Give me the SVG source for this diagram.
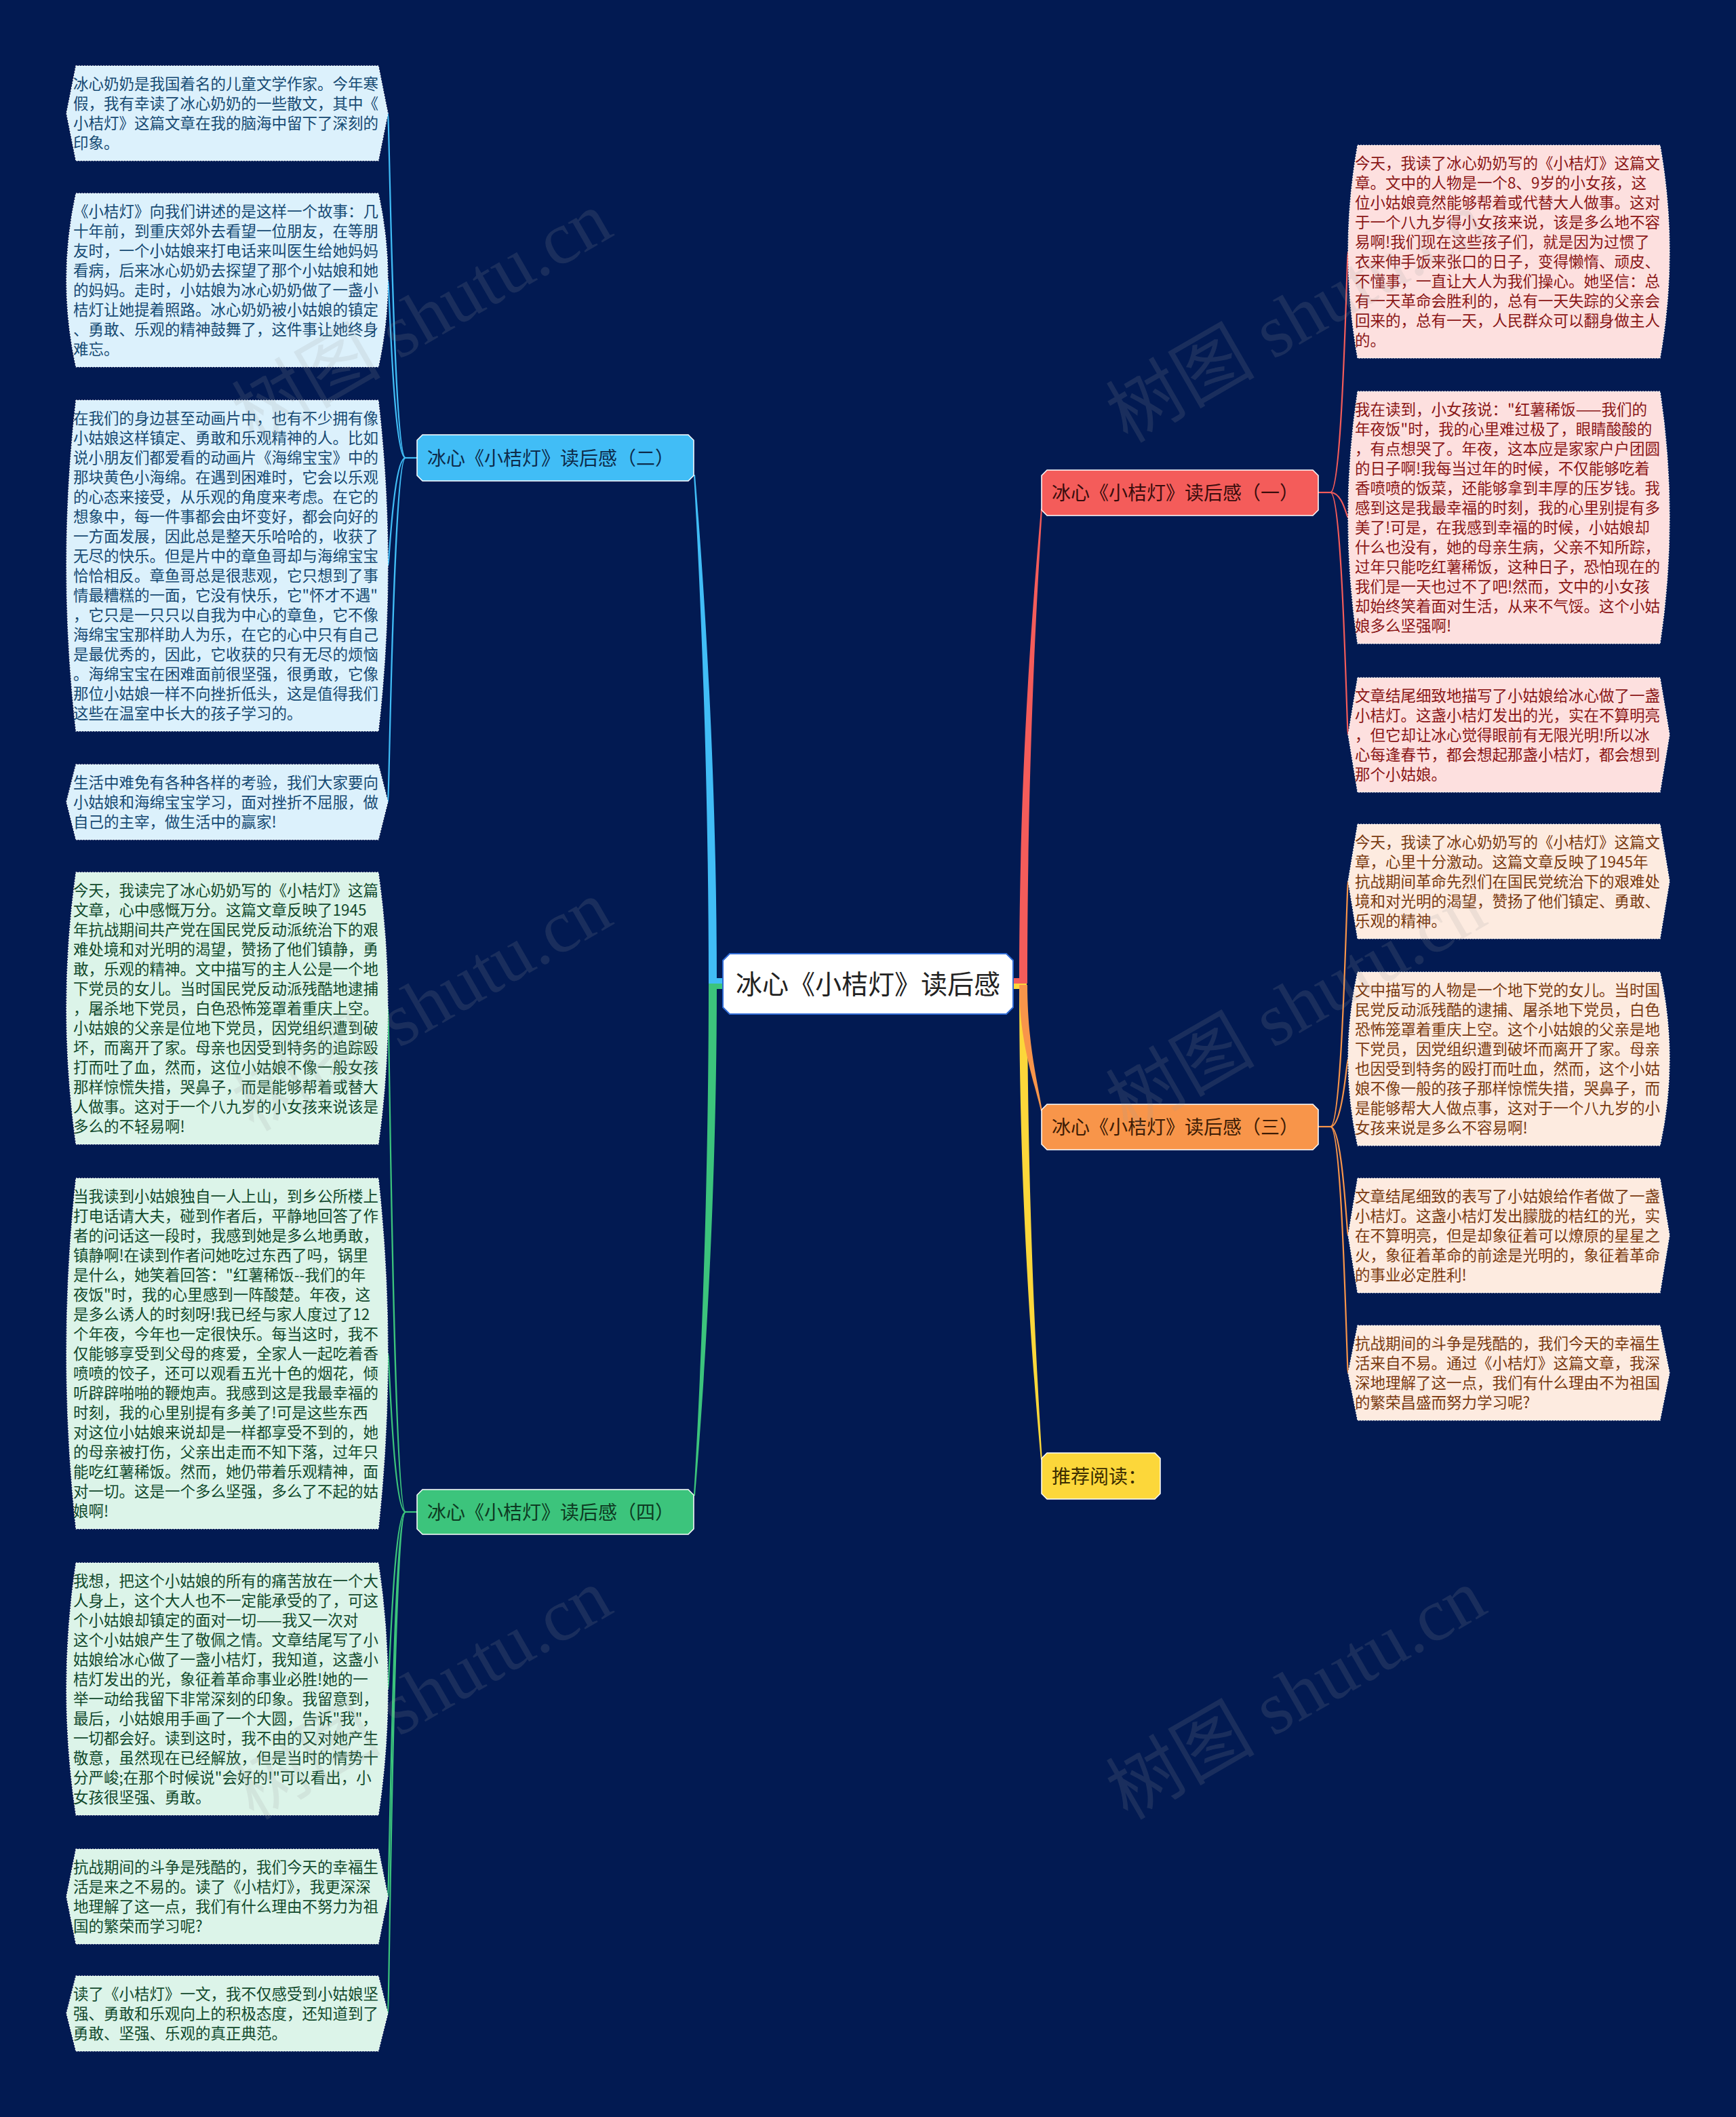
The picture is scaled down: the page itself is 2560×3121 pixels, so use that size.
<svg xmlns="http://www.w3.org/2000/svg" width="2560" height="3121" viewBox="0 0 2560 3121">
<defs>
<style>
text{font-family:"Noto Sans CJK SC","Noto Sans",sans-serif}
.leaf{stroke:#ffffff;stroke-width:1.2;stroke-dasharray:2 2}
.lb{fill:#dcf1fc}.lbt{fill:#164a73;font-size:22.5px}
.lg{fill:#dcf4e9}.lgt{fill:#124a2d;font-size:22.5px}
.lr{fill:#fde0df}.lrt{fill:#8a1616;font-size:22.5px}
.lo{fill:#fdebe0}.lot{fill:#7a3a10;font-size:22.5px}
.br{stroke:#ffffff;stroke-width:1.5}
.brt{font-size:28px}
.sub{fill:none;stroke-width:2.2}
.wm{font-family:"Liberation Serif","Noto Sans CJK SC",serif;font-size:110px;fill:#9a9a9a;fill-opacity:0.16}
</style>
</defs>
<rect x="0" y="0" width="2560" height="3121" fill="#021a52"/>

<g id="connectors">
  <path d="M1046,1442 H1066 V1450 H1046 Z" fill="#41bdf6"/>
  <path d="M1045,1450 C1045,1100 1029,800 1023,700 L1025,700 C1033,800 1057,1100 1057,1450 Z" fill="#41bdf6"/>
  <path d="M1046,1450 H1066 V1458 H1046 Z" fill="#3cc47c"/>
  <path d="M1045,1450 C1045,1800 1029,2110 1023,2205 L1025,2205 C1033,2110 1057,1800 1057,1450 Z" fill="#3cc47c"/>
  <path d="M1494,1450 H1514 V1458 H1494 Z" fill="#fcd73a"/>
  <path d="M1503,1452 C1503,1800 1527,2060 1535,2152 L1537,2152 C1531,2060 1515,1800 1515,1452 Z" fill="#fcd73a"/>
  <path d="M1503,1452 C1503,1540 1527,1600 1535,1638 L1537,1638 C1531,1600 1515,1540 1515,1452 Z" fill="#f8954a"/>
  <path d="M1494,1442 H1514 V1450 H1494 Z" fill="#f45c5a"/>
  <path d="M1503,1450 C1503,1100 1527,850 1535,750 L1537,750 C1531,850 1515,1100 1515,1450 Z" fill="#f45c5a"/>

  <g stroke="#41bdf6" class="sub">
    <path d="M615,675 H598"/>
    <path d="M598,675 C580,675 574,167 572,167"/>
    <path d="M598,675 C580,675 574,413 572,413"/>
    <path d="M598,675 C580,675 574,834 572,834"/>
    <path d="M598,675 C580,675 574,1182 572,1182"/>
  </g>
  <g stroke="#3cc47c" class="sub">
    <path d="M615,2229 H598"/>
    <path d="M598,2229 C580,2229 574,1486 572,1486"/>
    <path d="M598,2229 C580,2229 574,1995 572,1995"/>
    <path d="M598,2229 C580,2229 574,2490 572,2490"/>
    <path d="M598,2229 C580,2229 574,2796 572,2796"/>
    <path d="M598,2229 C580,2229 574,2968 572,2968"/>
  </g>
  <g stroke="#f45c5a" class="sub">
    <path d="M1944,726 H1962"/>
    <path d="M1962,726 C1980,726 1986,371 1988,371"/>
    <path d="M1962,726 C1980,726 1986,763 1988,763"/>
    <path d="M1962,726 C1980,726 1986,1083 1988,1083"/>
  </g>
  <g stroke="#f8954a" class="sub">
    <path d="M1944,1661 H1962"/>
    <path d="M1962,1661 C1980,1661 1986,1299 1988,1299"/>
    <path d="M1962,1661 C1980,1661 1986,1561 1988,1561"/>
    <path d="M1962,1661 C1980,1661 1986,1821 1988,1821"/>
    <path d="M1962,1661 C1980,1661 1986,2024 1988,2024"/>
  </g>
</g>

<g id="center">
  <path d="M1076,1406 H1484 L1494,1416 V1485 L1484,1495 H1076 L1066,1485 V1416 Z" fill="#ffffff" stroke="#2f6bd6" stroke-width="2"/>
  <text x="1280" y="1465" text-anchor="middle" font-size="39" fill="#222222">冰心《小桔灯》读后感</text>
</g>

<g id="branch-2">
  <path d="M623,641 H1015 L1023,649 V701 L1015,709 H623 L615,701 V649 Z" fill="#41bdf6" class="br"/>
  <text x="630" y="686" class="brt" fill="#0d2b4a">冰心《小桔灯》读后感（二）</text>
</g>
<g id="branch-1">
  <path d="M1544,693 H1936 L1944,701 V752 L1936,760 H1544 L1536,752 V701 Z" fill="#f45c5a" class="br"/>
  <text x="1551" y="737" class="brt" fill="#3a0d0d">冰心《小桔灯》读后感（一）</text>
</g>
<g id="branch-3">
  <path d="M1544,1628 H1936 L1944,1636 V1687 L1936,1695 H1544 L1536,1687 V1636 Z" fill="#f8954a" class="br"/>
  <text x="1551" y="1672" class="brt" fill="#3d1c05">冰心《小桔灯》读后感（三）</text>
</g>
<g id="branch-rec">
  <path d="M1544,2142 H1703 L1711,2150 V2202 L1703,2210 H1544 L1536,2202 V2150 Z" fill="#fcd73a" class="br"/>
  <text x="1551" y="2187" class="brt" fill="#3a2c00">推荐阅读：</text>
</g>
<g id="branch-4">
  <path d="M623,2196 H1015 L1023,2204 V2254 L1015,2262 H623 L615,2254 V2204 Z" fill="#3cc47c" class="br"/>
  <text x="630" y="2240" class="brt" fill="#0d3a22">冰心《小桔灯》读后感（四）</text>
</g>

<g id="leaf-l1">
  <path d="M112,97 H558 L572,167 L558,237 H112 L98,167 Z" class="leaf lb"/>
  <text class="lbt" x="108" y="132"><tspan x="108" dy="0">冰心奶奶是我国着名的儿童文学作家。今年寒</tspan><tspan x="108" dy="29">假，我有幸读了冰心奶奶的一些散文，其中《</tspan><tspan x="108" dy="29">小桔灯》这篇文章在我的脑海中留下了深刻的</tspan><tspan x="108" dy="29">印象。</tspan></text>
</g>
<g id="leaf-l2">
  <path d="M112,285 H558 Q586,413 558,541 H112 Q84,413 112,285 Z" class="leaf lb"/>
  <text class="lbt" x="108" y="320"><tspan x="108" dy="0">《小桔灯》向我们讲述的是这样一个故事：几</tspan><tspan x="108" dy="29">十年前，到重庆郊外去看望一位朋友，在等朋</tspan><tspan x="108" dy="29">友时，一个小姑娘来打电话来叫医生给她妈妈</tspan><tspan x="108" dy="29">看病，后来冰心奶奶去探望了那个小姑娘和她</tspan><tspan x="108" dy="29">的妈妈。走时，小姑娘为冰心奶奶做了一盏小</tspan><tspan x="108" dy="29">桔灯让她提着照路。冰心奶奶被小姑娘的镇定</tspan><tspan x="108" dy="29">、勇敢、乐观的精神鼓舞了，这件事让她终身</tspan><tspan x="108" dy="29">难忘。</tspan></text>
</g>
<g id="leaf-l3">
  <path d="M112,590 H558 Q586,834 558,1078 H112 Q84,834 112,590 Z" class="leaf lb"/>
  <text class="lbt" x="108" y="625"><tspan x="108" dy="0">在我们的身边甚至动画片中，也有不少拥有像</tspan><tspan x="108" dy="29">小姑娘这样镇定、勇敢和乐观精神的人。比如</tspan><tspan x="108" dy="29">说小朋友们都爱看的动画片《海绵宝宝》中的</tspan><tspan x="108" dy="29">那块黄色小海绵。在遇到困难时，它会以乐观</tspan><tspan x="108" dy="29">的心态来接受，从乐观的角度来考虑。在它的</tspan><tspan x="108" dy="29">想象中，每一件事都会由坏变好，都会向好的</tspan><tspan x="108" dy="29">一方面发展，因此总是整天乐哈哈的，收获了</tspan><tspan x="108" dy="29">无尽的快乐。但是片中的章鱼哥却与海绵宝宝</tspan><tspan x="108" dy="29">恰恰相反。章鱼哥总是很悲观，它只想到了事</tspan><tspan x="108" dy="29">情最糟糕的一面，它没有快乐，它"怀才不遇"</tspan><tspan x="108" dy="29">，它只是一只只以自我为中心的章鱼，它不像</tspan><tspan x="108" dy="29">海绵宝宝那样助人为乐，在它的心中只有自己</tspan><tspan x="108" dy="29">是最优秀的，因此，它收获的只有无尽的烦恼</tspan><tspan x="108" dy="29">。海绵宝宝在困难面前很坚强，很勇敢，它像</tspan><tspan x="108" dy="29">那位小姑娘一样不向挫折低头，这是值得我们</tspan><tspan x="108" dy="29">这些在温室中长大的孩子学习的。</tspan></text>
</g>
<g id="leaf-l4">
  <path d="M112,1127 H558 L572,1182 L558,1238 H112 L98,1182 Z" class="leaf lb"/>
  <text class="lbt" x="108" y="1162"><tspan x="108" dy="0">生活中难免有各种各样的考验，我们大家要向</tspan><tspan x="108" dy="29">小姑娘和海绵宝宝学习，面对挫折不屈服，做</tspan><tspan x="108" dy="29">自己的主宰，做生活中的赢家!</tspan></text>
</g>
<g id="leaf-l5">
  <path d="M112,1286 H558 Q586,1486 558,1687 H112 Q84,1486 112,1286 Z" class="leaf lg"/>
  <text class="lgt" x="108" y="1321"><tspan x="108" dy="0">今天，我读完了冰心奶奶写的《小桔灯》这篇</tspan><tspan x="108" dy="29">文章，心中感慨万分。这篇文章反映了1945</tspan><tspan x="108" dy="29">年抗战期间共产党在国民党反动派统治下的艰</tspan><tspan x="108" dy="29">难处境和对光明的渴望，赞扬了他们镇静，勇</tspan><tspan x="108" dy="29">敢，乐观的精神。文中描写的主人公是一个地</tspan><tspan x="108" dy="29">下党员的女儿。当时国民党反动派残酷地逮捕</tspan><tspan x="108" dy="29">，屠杀地下党员，白色恐怖笼罩着重庆上空。</tspan><tspan x="108" dy="29">小姑娘的父亲是位地下党员，因党组织遭到破</tspan><tspan x="108" dy="29">坏，而离开了家。母亲也因受到特务的追踪殴</tspan><tspan x="108" dy="29">打而吐了血，然而，这位小姑娘不像一般女孩</tspan><tspan x="108" dy="29">那样惊慌失措，哭鼻子，而是能够帮着或替大</tspan><tspan x="108" dy="29">人做事。这对于一个八九岁的小女孩来说该是</tspan><tspan x="108" dy="29">多么的不轻易啊!</tspan></text>
</g>
<g id="leaf-l6">
  <path d="M112,1737 H558 Q586,1995 558,2254 H112 Q84,1995 112,1737 Z" class="leaf lg"/>
  <text class="lgt" x="108" y="1772"><tspan x="108" dy="0">当我读到小姑娘独自一人上山，到乡公所楼上</tspan><tspan x="108" dy="29">打电话请大夫，碰到作者后，平静地回答了作</tspan><tspan x="108" dy="29">者的问话这一段时，我感到她是多么地勇敢，</tspan><tspan x="108" dy="29">镇静啊!在读到作者问她吃过东西了吗，锅里</tspan><tspan x="108" dy="29">是什么，她笑着回答："红薯稀饭--我们的年</tspan><tspan x="108" dy="29">夜饭"时，我的心里感到一阵酸楚。年夜，这</tspan><tspan x="108" dy="29">是多么诱人的时刻呀!我已经与家人度过了12</tspan><tspan x="108" dy="29">个年夜，今年也一定很快乐。每当这时，我不</tspan><tspan x="108" dy="29">仅能够享受到父母的疼爱，全家人一起吃着香</tspan><tspan x="108" dy="29">喷喷的饺子，还可以观看五光十色的烟花，倾</tspan><tspan x="108" dy="29">听辟辟啪啪的鞭炮声。我感到这是我最幸福的</tspan><tspan x="108" dy="29">时刻，我的心里别提有多美了!可是这些东西</tspan><tspan x="108" dy="29">对这位小姑娘来说却是一样都享受不到的，她</tspan><tspan x="108" dy="29">的母亲被打伤，父亲出走而不知下落，过年只</tspan><tspan x="108" dy="29">能吃红薯稀饭。然而，她仍带着乐观精神，面</tspan><tspan x="108" dy="29">对一切。这是一个多么坚强，多么了不起的姑</tspan><tspan x="108" dy="29">娘啊!</tspan></text>
</g>
<g id="leaf-l7">
  <path d="M112,2304 H558 Q586,2490 558,2676 H112 Q84,2490 112,2304 Z" class="leaf lg"/>
  <text class="lgt" x="108" y="2339"><tspan x="108" dy="0">我想，把这个小姑娘的所有的痛苦放在一个大</tspan><tspan x="108" dy="29">人身上，这个大人也不一定能承受的了，可这</tspan><tspan x="108" dy="29">个小姑娘却镇定的面对一切——我又一次对</tspan><tspan x="108" dy="29">这个小姑娘产生了敬佩之情。文章结尾写了小</tspan><tspan x="108" dy="29">姑娘给冰心做了一盏小桔灯，我知道，这盏小</tspan><tspan x="108" dy="29">桔灯发出的光，象征着革命事业必胜!她的一</tspan><tspan x="108" dy="29">举一动给我留下非常深刻的印象。我留意到，</tspan><tspan x="108" dy="29">最后，小姑娘用手画了一个大圆，告诉"我"，</tspan><tspan x="108" dy="29">一切都会好。读到这时，我不由的又对她产生</tspan><tspan x="108" dy="29">敬意，虽然现在已经解放，但是当时的情势十</tspan><tspan x="108" dy="29">分严峻;在那个时候说"会好的!"可以看出，小</tspan><tspan x="108" dy="29">女孩很坚强、勇敢。</tspan></text>
</g>
<g id="leaf-l8">
  <path d="M112,2726 H558 L572,2796 L558,2866 H112 L98,2796 Z" class="leaf lg"/>
  <text class="lgt" x="108" y="2761"><tspan x="108" dy="0">抗战期间的斗争是残酷的，我们今天的幸福生</tspan><tspan x="108" dy="29">活是来之不易的。读了《小桔灯》，我更深深</tspan><tspan x="108" dy="29">地理解了这一点，我们有什么理由不努力为祖</tspan><tspan x="108" dy="29">国的繁荣而学习呢?</tspan></text>
</g>
<g id="leaf-l9">
  <path d="M112,2913 H558 L572,2968 L558,3024 H112 L98,2968 Z" class="leaf lg"/>
  <text class="lgt" x="108" y="2948"><tspan x="108" dy="0">读了《小桔灯》一文，我不仅感受到小姑娘坚</tspan><tspan x="108" dy="29">强、勇敢和乐观向上的积极态度，还知道到了</tspan><tspan x="108" dy="29">勇敢、坚强、乐观的真正典范。</tspan></text>
</g>

<g id="leaf-r1">
  <path d="M2002,214 H2448 Q2476,371 2448,528 H2002 Q1974,371 2002,214 Z" class="leaf lr"/>
  <text class="lrt" x="1998" y="249"><tspan x="1998" dy="0">今天，我读了冰心奶奶写的《小桔灯》这篇文</tspan><tspan x="1998" dy="29">章。文中的人物是一个8、9岁的小女孩，这</tspan><tspan x="1998" dy="29">位小姑娘竟然能够帮着或代替大人做事。这对</tspan><tspan x="1998" dy="29">于一个八九岁得小女孩来说，该是多么地不容</tspan><tspan x="1998" dy="29">易啊!我们现在这些孩子们，就是因为过惯了</tspan><tspan x="1998" dy="29">衣来伸手饭来张口的日子，变得懒惰、顽皮、</tspan><tspan x="1998" dy="29">不懂事，一直让大人为我们操心。她坚信：总</tspan><tspan x="1998" dy="29">有一天革命会胜利的，总有一天失踪的父亲会</tspan><tspan x="1998" dy="29">回来的，总有一天，人民群众可以翻身做主人</tspan><tspan x="1998" dy="29">的。</tspan></text>
</g>
<g id="leaf-r2">
  <path d="M2002,577 H2448 Q2476,763 2448,949 H2002 Q1974,763 2002,577 Z" class="leaf lr"/>
  <text class="lrt" x="1998" y="612"><tspan x="1998" dy="0">我在读到，小女孩说："红薯稀饭——我们的</tspan><tspan x="1998" dy="29">年夜饭"时，我的心里难过极了，眼睛酸酸的</tspan><tspan x="1998" dy="29">，有点想哭了。年夜，这本应是家家户户团圆</tspan><tspan x="1998" dy="29">的日子啊!我每当过年的时候，不仅能够吃着</tspan><tspan x="1998" dy="29">香喷喷的饭菜，还能够拿到丰厚的压岁钱。我</tspan><tspan x="1998" dy="29">感到这是我最幸福的时刻，我的心里别提有多</tspan><tspan x="1998" dy="29">美了!可是，在我感到幸福的时候，小姑娘却</tspan><tspan x="1998" dy="29">什么也没有，她的母亲生病，父亲不知所踪，</tspan><tspan x="1998" dy="29">过年只能吃红薯稀饭，这种日子，恐怕现在的</tspan><tspan x="1998" dy="29">我们是一天也过不了吧!然而，文中的小女孩</tspan><tspan x="1998" dy="29">却始终笑着面对生活，从来不气馁。这个小姑</tspan><tspan x="1998" dy="29">娘多么坚强啊!</tspan></text>
</g>
<g id="leaf-r3">
  <path d="M2002,999 H2448 L2462,1083 L2448,1168 H2002 L1988,1083 Z" class="leaf lr"/>
  <text class="lrt" x="1998" y="1034"><tspan x="1998" dy="0">文章结尾细致地描写了小姑娘给冰心做了一盏</tspan><tspan x="1998" dy="29">小桔灯。这盏小桔灯发出的光，实在不算明亮</tspan><tspan x="1998" dy="29">，但它却让冰心觉得眼前有无限光明!所以冰</tspan><tspan x="1998" dy="29">心每逢春节，都会想起那盏小桔灯，都会想到</tspan><tspan x="1998" dy="29">那个小姑娘。</tspan></text>
</g>
<g id="leaf-r4">
  <path d="M2002,1215 H2448 L2462,1299 L2448,1384 H2002 L1988,1299 Z" class="leaf lo"/>
  <text class="lot" x="1998" y="1250"><tspan x="1998" dy="0">今天，我读了冰心奶奶写的《小桔灯》这篇文</tspan><tspan x="1998" dy="29">章，心里十分激动。这篇文章反映了1945年</tspan><tspan x="1998" dy="29">抗战期间革命先烈们在国民党统治下的艰难处</tspan><tspan x="1998" dy="29">境和对光明的渴望，赞扬了他们镇定、勇敢、</tspan><tspan x="1998" dy="29">乐观的精神。</tspan></text>
</g>
<g id="leaf-r5">
  <path d="M2002,1433 H2448 Q2476,1561 2448,1689 H2002 Q1974,1561 2002,1433 Z" class="leaf lo"/>
  <text class="lot" x="1998" y="1468"><tspan x="1998" dy="0">文中描写的人物是一个地下党的女儿。当时国</tspan><tspan x="1998" dy="29">民党反动派残酷的逮捕、屠杀地下党员，白色</tspan><tspan x="1998" dy="29">恐怖笼罩着重庆上空。这个小姑娘的父亲是地</tspan><tspan x="1998" dy="29">下党员，因党组织遭到破坏而离开了家。母亲</tspan><tspan x="1998" dy="29">也因受到特务的殴打而吐血，然而，这个小姑</tspan><tspan x="1998" dy="29">娘不像一般的孩子那样惊慌失措，哭鼻子，而</tspan><tspan x="1998" dy="29">是能够帮大人做点事，这对于一个八九岁的小</tspan><tspan x="1998" dy="29">女孩来说是多么不容易啊!</tspan></text>
</g>
<g id="leaf-r6">
  <path d="M2002,1737 H2448 L2462,1821 L2448,1906 H2002 L1988,1821 Z" class="leaf lo"/>
  <text class="lot" x="1998" y="1772"><tspan x="1998" dy="0">文章结尾细致的表写了小姑娘给作者做了一盏</tspan><tspan x="1998" dy="29">小桔灯。这盏小桔灯发出朦胧的桔红的光，实</tspan><tspan x="1998" dy="29">在不算明亮，但是却象征着可以燎原的星星之</tspan><tspan x="1998" dy="29">火，象征着革命的前途是光明的，象征着革命</tspan><tspan x="1998" dy="29">的事业必定胜利!</tspan></text>
</g>
<g id="leaf-r7">
  <path d="M2002,1954 H2448 L2462,2024 L2448,2094 H2002 L1988,2024 Z" class="leaf lo"/>
  <text class="lot" x="1998" y="1989"><tspan x="1998" dy="0">抗战期间的斗争是残酷的，我们今天的幸福生</tspan><tspan x="1998" dy="29">活来自不易。通过《小桔灯》这篇文章，我深</tspan><tspan x="1998" dy="29">深地理解了这一点，我们有什么理由不为祖国</tspan><tspan x="1998" dy="29">的繁荣昌盛而努力学习呢?</tspan></text>
</g>

<g id="watermark">
  <text class="wm" x="641" y="500" text-anchor="middle" transform="rotate(-30 641 500)">树图 shutu.cn</text>
  <text class="wm" x="1930" y="500" text-anchor="middle" transform="rotate(-30 1930 500)">树图 shutu.cn</text>
  <text class="wm" x="641" y="1515" text-anchor="middle" transform="rotate(-30 641 1515)">树图 shutu.cn</text>
  <text class="wm" x="1930" y="1515" text-anchor="middle" transform="rotate(-30 1930 1515)">树图 shutu.cn</text>
  <text class="wm" x="641" y="2530" text-anchor="middle" transform="rotate(-30 641 2530)">树图 shutu.cn</text>
  <text class="wm" x="1930" y="2530" text-anchor="middle" transform="rotate(-30 1930 2530)">树图 shutu.cn</text>
</g>
</svg>
